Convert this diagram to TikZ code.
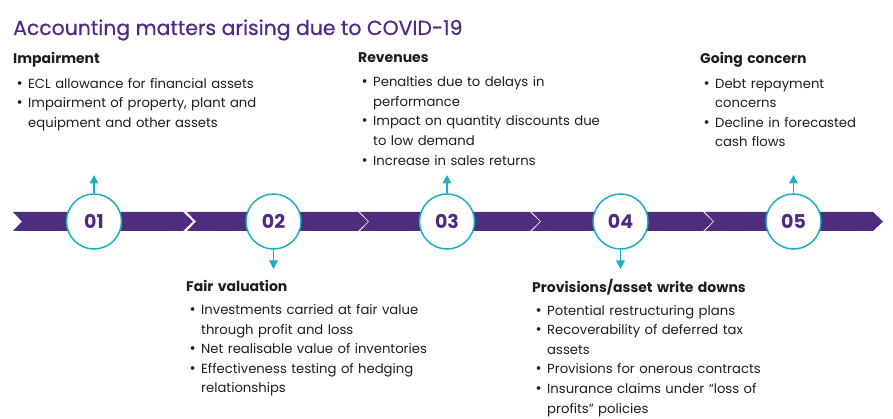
\documentclass[tikz,border=0pt]{standalone}
\usepackage{fontspec}
\setmainfont{Poppins}
\newfontfamily\titlefont[FakeBold=0.6]{Poppins}
\usetikzlibrary{arrows.meta}
\definecolor{bandc}{HTML}{4E2D7E}
\definecolor{titlec}{HTML}{4F2C83}
\definecolor{ringc}{HTML}{1AAFC2}
\definecolor{txtc}{HTML}{1E1E1E}
\newcommand\bit[1]{\hangindent=15pt\hangafter=1\noindent\makebox[15pt][l]{\hspace{3.5pt}{\fontsize{15}{15}\selectfont•}}#1\par}
\newcommand\bhead[1]{\noindent{\fontsize{14}{19.6}\bfseries #1}\par\vspace{4.5pt}}
\newcommand\bheadb[1]{\noindent{\fontsize{14}{19.6}\bfseries #1}\par\vspace{3pt}}
\begin{document}
\begin{tikzpicture}[x=1pt,y=-1pt,
  ring/.style={circle,draw=ringc,line width=1.5pt,fill=white,minimum size=55pt,inner sep=0pt,
    text=bandc,font=\fontsize{19}{19}\bfseries},
  link/.style={draw=ringc,line width=1.6pt,-{Triangle[width=8.5pt,length=8.5pt]}},
  block/.style={anchor=north west,inner sep=0pt,text width=300pt,text=txtc,
    font=\fontsize{13.2}{19.6}\selectfont},
  seg/.style={fill=bandc}]
\useasboundingbox (0,0) rectangle (893,419);
\node[anchor=base west,inner sep=0pt,text=titlec,font=\titlefont\fontsize{20.4}{21}\selectfont] (title) at (13,35) {Accounting matters arising due to COVID-19};
% band segments
\foreach \s/\e in {13/183,187/358,360/530,532/703,705/873}{
  \fill[seg] (\s,212) -- (\e,212) -- (\e+10,221.5) -- (\e,231) -- (\s,231) -- (\s+9,221.5) -- cycle;
}
\node[ring] (c1) at (94,221.5) {01};
\node[ring] (c2) at (273.5,221.5) {02};
\node[ring] (c3) at (447,221.5) {03};
\node[ring] (c4) at (620.5,221.5) {04};
\node[ring] (c5) at (793.5,221.5) {05};
\coordinate (t1) at (94,175);
\coordinate (t2) at (273.5,269);
\coordinate (t3) at (447,175);
\coordinate (t4) at (620.5,269);
\coordinate (t5) at (793.5,175);
\draw[link] (c1.north) -- (t1);
\draw[link] (c2.south) -- (t2);
\draw[link] (c3.north) -- (t3);
\draw[link] (c4.south) -- (t4);
\draw[link] (c5.north) -- (t5);
\node[block] (b1) at (13,52.5) {\bhead{Impairment}
\bit{ECL allowance for financial assets}
\bit{Impairment of property, plant and\newline equipment and other assets}};
\node[block] (b3) at (358,52.5) {\bhead{Revenues}
\bit{Penalties due to delays in\newline performance}
\bit{Impact on quantity discounts due\newline to low demand}
\bit{Increase in sales returns}};
\node[block] (b5) at (700,52.5) {\bhead{Going concern}
\bit{Debt repayment\newline concerns}
\bit{Decline in forecasted\newline cash flows}};
\node[block] (b2) at (186,280.5) {\bheadb{Fair valuation}
\bit{Investments carried at fair value\newline through profit and loss}
\bit{Net realisable value of inventories}
\bit{Effectiveness testing of hedging\newline relationships}};
\node[block] (b4) at (532,279) {\bheadb{Provisions/asset write downs}
\bit{Potential restructuring plans}
\bit{Recoverability of deferred tax\newline assets}
\bit{Provisions for onerous contracts}
\bit{Insurance claims under “loss of\newline profits” policies}};
\end{tikzpicture}
\end{document}
